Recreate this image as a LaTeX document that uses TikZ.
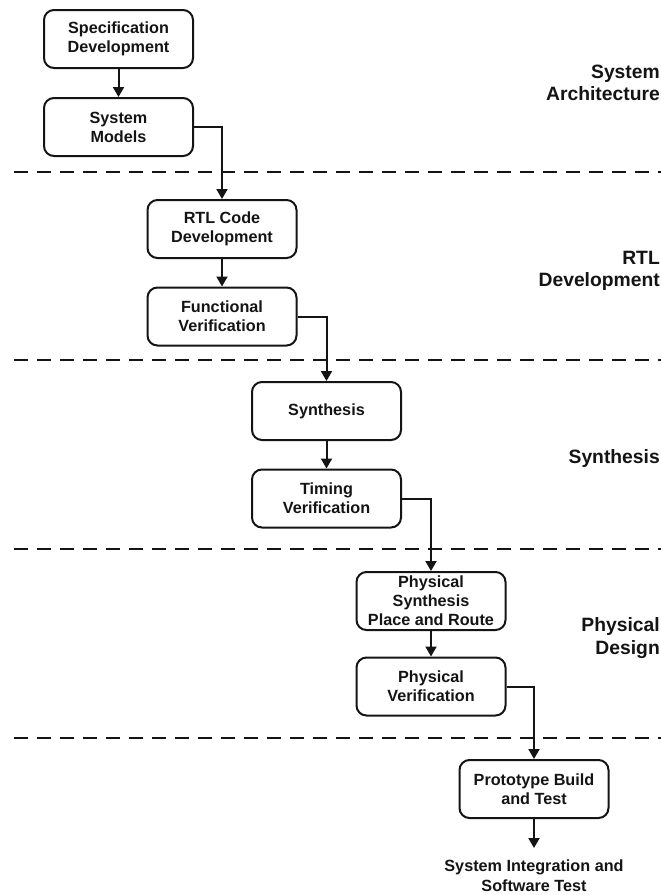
\documentclass[tikz,border=0pt]{standalone}
\usepackage{fontspec}
\setmainfont{Liberation Sans}
\usetikzlibrary{arrows.meta}
\definecolor{ink}{HTML}{141414}
\tikzset{
  stage/.style={draw=ink, line width=2pt, rounded corners=10pt,
    minimum width=149pt, minimum height=58pt, inner sep=2pt,
    align=center, text=ink, font=\bfseries\fontsize{16.2}{19}\selectfont},
  band/.style={anchor=east, align=right, inner sep=0pt, text=ink,
    font=\bfseries\fontsize{19.3}{22.5}\selectfont},
  flow/.style={draw=ink, line width=2pt,
    -{Triangle[length=10pt,width=11pt]}},
  divider/.style={draw=ink, line width=2.5pt, dash pattern=on 14pt off 9pt}
}
\begin{document}
\begin{tikzpicture}[x=1pt,y=-1pt]
\useasboundingbox (0,0) rectangle (661,895);

% phase dividers
\coordinate (d1l) at (14,172); \coordinate (d1r) at (661,172);
\coordinate (d2l) at (14,360); \coordinate (d2r) at (661,360);
\coordinate (d3l) at (14,549); \coordinate (d3r) at (661,549);
\coordinate (d4l) at (14,738); \coordinate (d4r) at (661,738);
\draw[divider] (d1l) -- (d1r);
\draw[divider] (d2l) -- (d2r);
\draw[divider] (d3l) -- (d3r);
\draw[divider] (d4l) -- (d4r);

% design steps
\node[stage] (spec)  at (118.5,39)  {Specification\\Development};
\node[stage] (model) at (118.5,127) {System\\Models};
\node[stage] (rtl)   at (222,229)   {RTL Code\\Development};
\node[stage] (func)  at (222,316.5) {Functional\\Verification};
\node[stage] (syn)   at (326.5,411) {Synthesis};
\node[stage] (tim)   at (326.5,498.5) {Timing\\Verification};
\node[stage] (phys)  at (431,601)   {Physical\\Synthesis\\Place and Route};
\node[stage] (pver)  at (431,686.5) {Physical\\Verification};
\node[stage] (proto) at (534,789)   {Prototype Build\\and Test};

% phase labels
\node[band] (lsa)  at (660,83)  {System\\Architecture};
\node[band] (lrtl) at (660,271) {RTL\\Development};
\node[band] (lsyn) at (660,459) {Synthesis};
\node[band] (lpd)  at (660,638) {Physical\\Design};

% final step
\coordinate (end) at (534,848);
\node[inner sep=0pt, align=center, text=ink,
  font=\bfseries\fontsize{16.2}{20}\selectfont] (sit) at (534,876)
  {System Integration and\\Software Test};

% connectors
\draw[flow] (spec) -- (model);
\draw[flow] (model.east) -| (rtl.north);
\draw[flow] (rtl) -- (func);
\draw[flow] (func.east) -| (syn.north);
\draw[flow] (syn) -- (tim);
\draw[flow] (tim.east) -| (phys.north);
\draw[flow] (phys) -- (pver);
\draw[flow] (pver.east) -| (proto.north);
\draw[flow] (proto.south) -- (end);
\end{tikzpicture}
\end{document}
